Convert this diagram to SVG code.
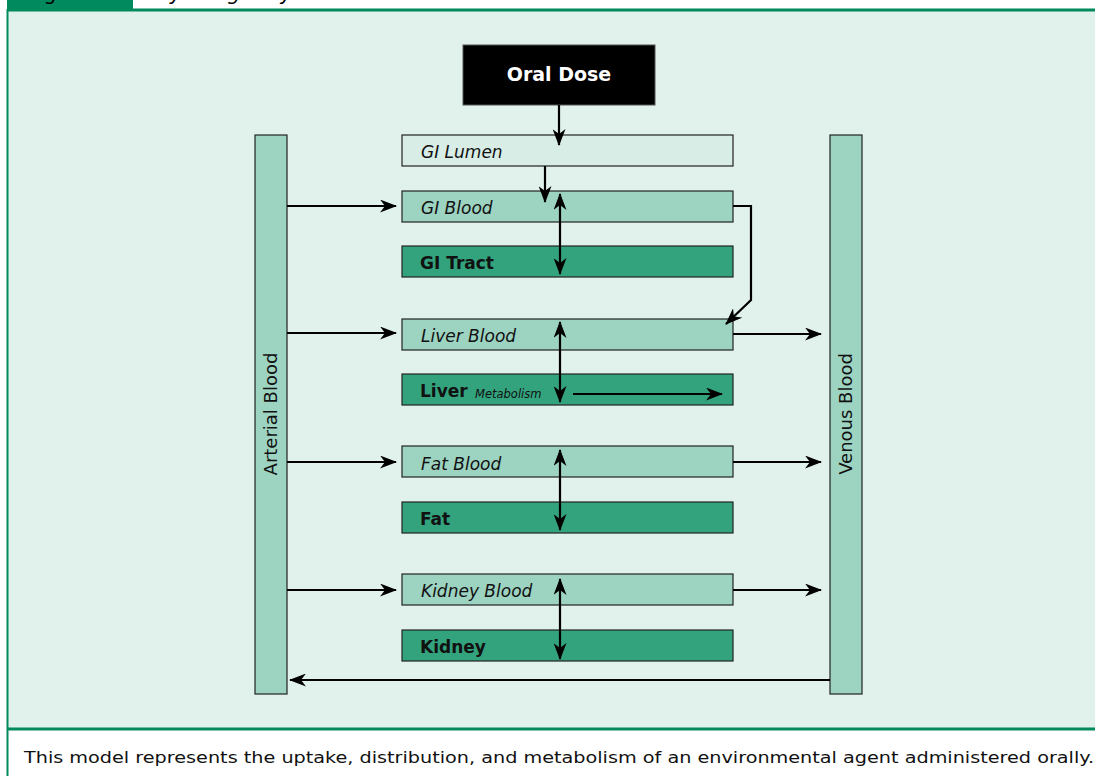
<svg xmlns="http://www.w3.org/2000/svg" width="1095" height="776" viewBox="0 0 1095 776">
<style>
.lbl{font-family:"DejaVu Sans","Liberation Sans",sans-serif;font-size:17px;fill:#111}
.it{font-style:italic}
.b{font-weight:bold}
.light{fill:#d8ede6;stroke:#222;stroke-width:1.2}
.mid{fill:#9dd3c1;stroke:#222;stroke-width:1.2}
.dark{fill:#33a37e;stroke:#222;stroke-width:1.2}
.ar{fill:none;stroke:#000;stroke-width:2.2}
</style>
<defs>
<marker id="ah" viewBox="0 0 17 13" refX="16" refY="6.5" markerWidth="17" markerHeight="13" markerUnits="userSpaceOnUse" orient="auto-start-reverse">
<path d="M0,0 L17,6.5 L0,13 L5,6.5 z" fill="#000"/>
</marker>
</defs>
<rect x="0" y="0" width="1095" height="776" fill="#fff"/>
<g id="header">
<rect x="7" y="0" width="126" height="10" fill="#008a5e"/>
<text x="28" y="0" class="lbl" style="font-size:20px;fill:#000">Figure 3</text>
<text x="145" y="0" class="lbl it" style="font-size:20px;fill:#000">Physiologically Based Pharmacokinetic Model for an Oral Dose</text>
</g>
<g id="frame">
<rect x="7" y="11" width="1095" height="717" fill="#e1f1eb"/>
<line x1="7" y1="10" x2="1095" y2="10" stroke="#008a5e" stroke-width="3"/>
<line x1="7" y1="729" x2="1095" y2="729" stroke="#008a5e" stroke-width="3"/>
<line x1="7.5" y1="9" x2="7.5" y2="776" stroke="#008a5e" stroke-width="2"/>
</g>
<g id="oral-dose">
<rect x="463" y="45" width="192" height="60" fill="#000" stroke="#555" stroke-width="1"/>
<text x="559" y="81" text-anchor="middle" class="lbl b" style="fill:#fff;font-size:19px">Oral Dose</text>
</g>
<g id="arterial-blood">
<rect x="255" y="135" width="32" height="559" class="mid"/>
<text transform="translate(277,414) rotate(-90)" text-anchor="middle" class="lbl" style="font-size:18px">Arterial Blood</text>
</g>
<g id="venous-blood">
<rect x="830" y="135" width="32" height="559" class="mid"/>
<text transform="translate(852,414) rotate(-90)" text-anchor="middle" class="lbl" style="font-size:18px">Venous Blood</text>
</g>
<g id="gi-lumen"><rect x="402" y="135" width="331" height="31" class="light"/><text x="421" y="158" class="lbl it">GI Lumen</text></g>
<g id="gi-blood"><rect x="402" y="191" width="331" height="31" class="mid"/><text x="421" y="214" class="lbl it">GI Blood</text></g>
<g id="gi-tract"><rect x="402" y="246" width="331" height="31" class="dark"/><text x="420" y="269" class="lbl b">GI Tract</text></g>
<g id="liver-blood"><rect x="402" y="319" width="331" height="31" class="mid"/><text x="421" y="342" class="lbl it">Liver Blood</text></g>
<g id="liver"><rect x="402" y="374" width="331" height="31" class="dark"/><text x="420" y="397" class="lbl b">Liver</text><text x="475" y="398" class="lbl it" style="font-size:11.5px">Metabolism</text></g>
<g id="fat-blood"><rect x="402" y="446" width="331" height="31" class="mid"/><text x="421" y="470" class="lbl it">Fat Blood</text></g>
<g id="fat"><rect x="402" y="502" width="331" height="31" class="dark"/><text x="420" y="525" class="lbl b">Fat</text></g>
<g id="kidney-blood"><rect x="402" y="574" width="331" height="31" class="mid"/><text x="421" y="597" class="lbl it">Kidney Blood</text></g>
<g id="kidney"><rect x="402" y="630" width="331" height="31" class="dark"/><text x="420" y="653" class="lbl b">Kidney</text></g>
<g id="connectors">
<path class="ar" d="M559,105 V145" marker-end="url(#ah)"/>
<path class="ar" d="M545,166 V202" marker-end="url(#ah)"/>
<path class="ar" d="M560,194 V274" marker-start="url(#ah)" marker-end="url(#ah)"/>
<path class="ar" d="M733,206 H751 V300 L726,324" marker-end="url(#ah)"/>
<path class="ar" d="M560,322 V402" marker-start="url(#ah)" marker-end="url(#ah)"/>
<path class="ar" d="M573,394 H722" marker-end="url(#ah)"/>
<path class="ar" d="M560,450 V530" marker-start="url(#ah)" marker-end="url(#ah)"/>
<path class="ar" d="M560,579 V659" marker-start="url(#ah)" marker-end="url(#ah)"/>
<path class="ar" d="M287,206 H396" marker-end="url(#ah)"/>
<path class="ar" d="M287,333 H396" marker-end="url(#ah)"/>
<path class="ar" d="M287,462 H396" marker-end="url(#ah)"/>
<path class="ar" d="M287,590 H396" marker-end="url(#ah)"/>
<path class="ar" d="M733,334 H821" marker-end="url(#ah)"/>
<path class="ar" d="M733,462 H821" marker-end="url(#ah)"/>
<path class="ar" d="M733,590 H821" marker-end="url(#ah)"/>
<path class="ar" d="M830,680 H290" marker-end="url(#ah)"/>
</g>
<g id="caption">
<text x="24" y="763" class="lbl" style="font-size:16px" textLength="1070" lengthAdjust="spacingAndGlyphs">This model represents the uptake, distribution, and metabolism of an environmental agent administered orally.</text>
</g>
</svg>
